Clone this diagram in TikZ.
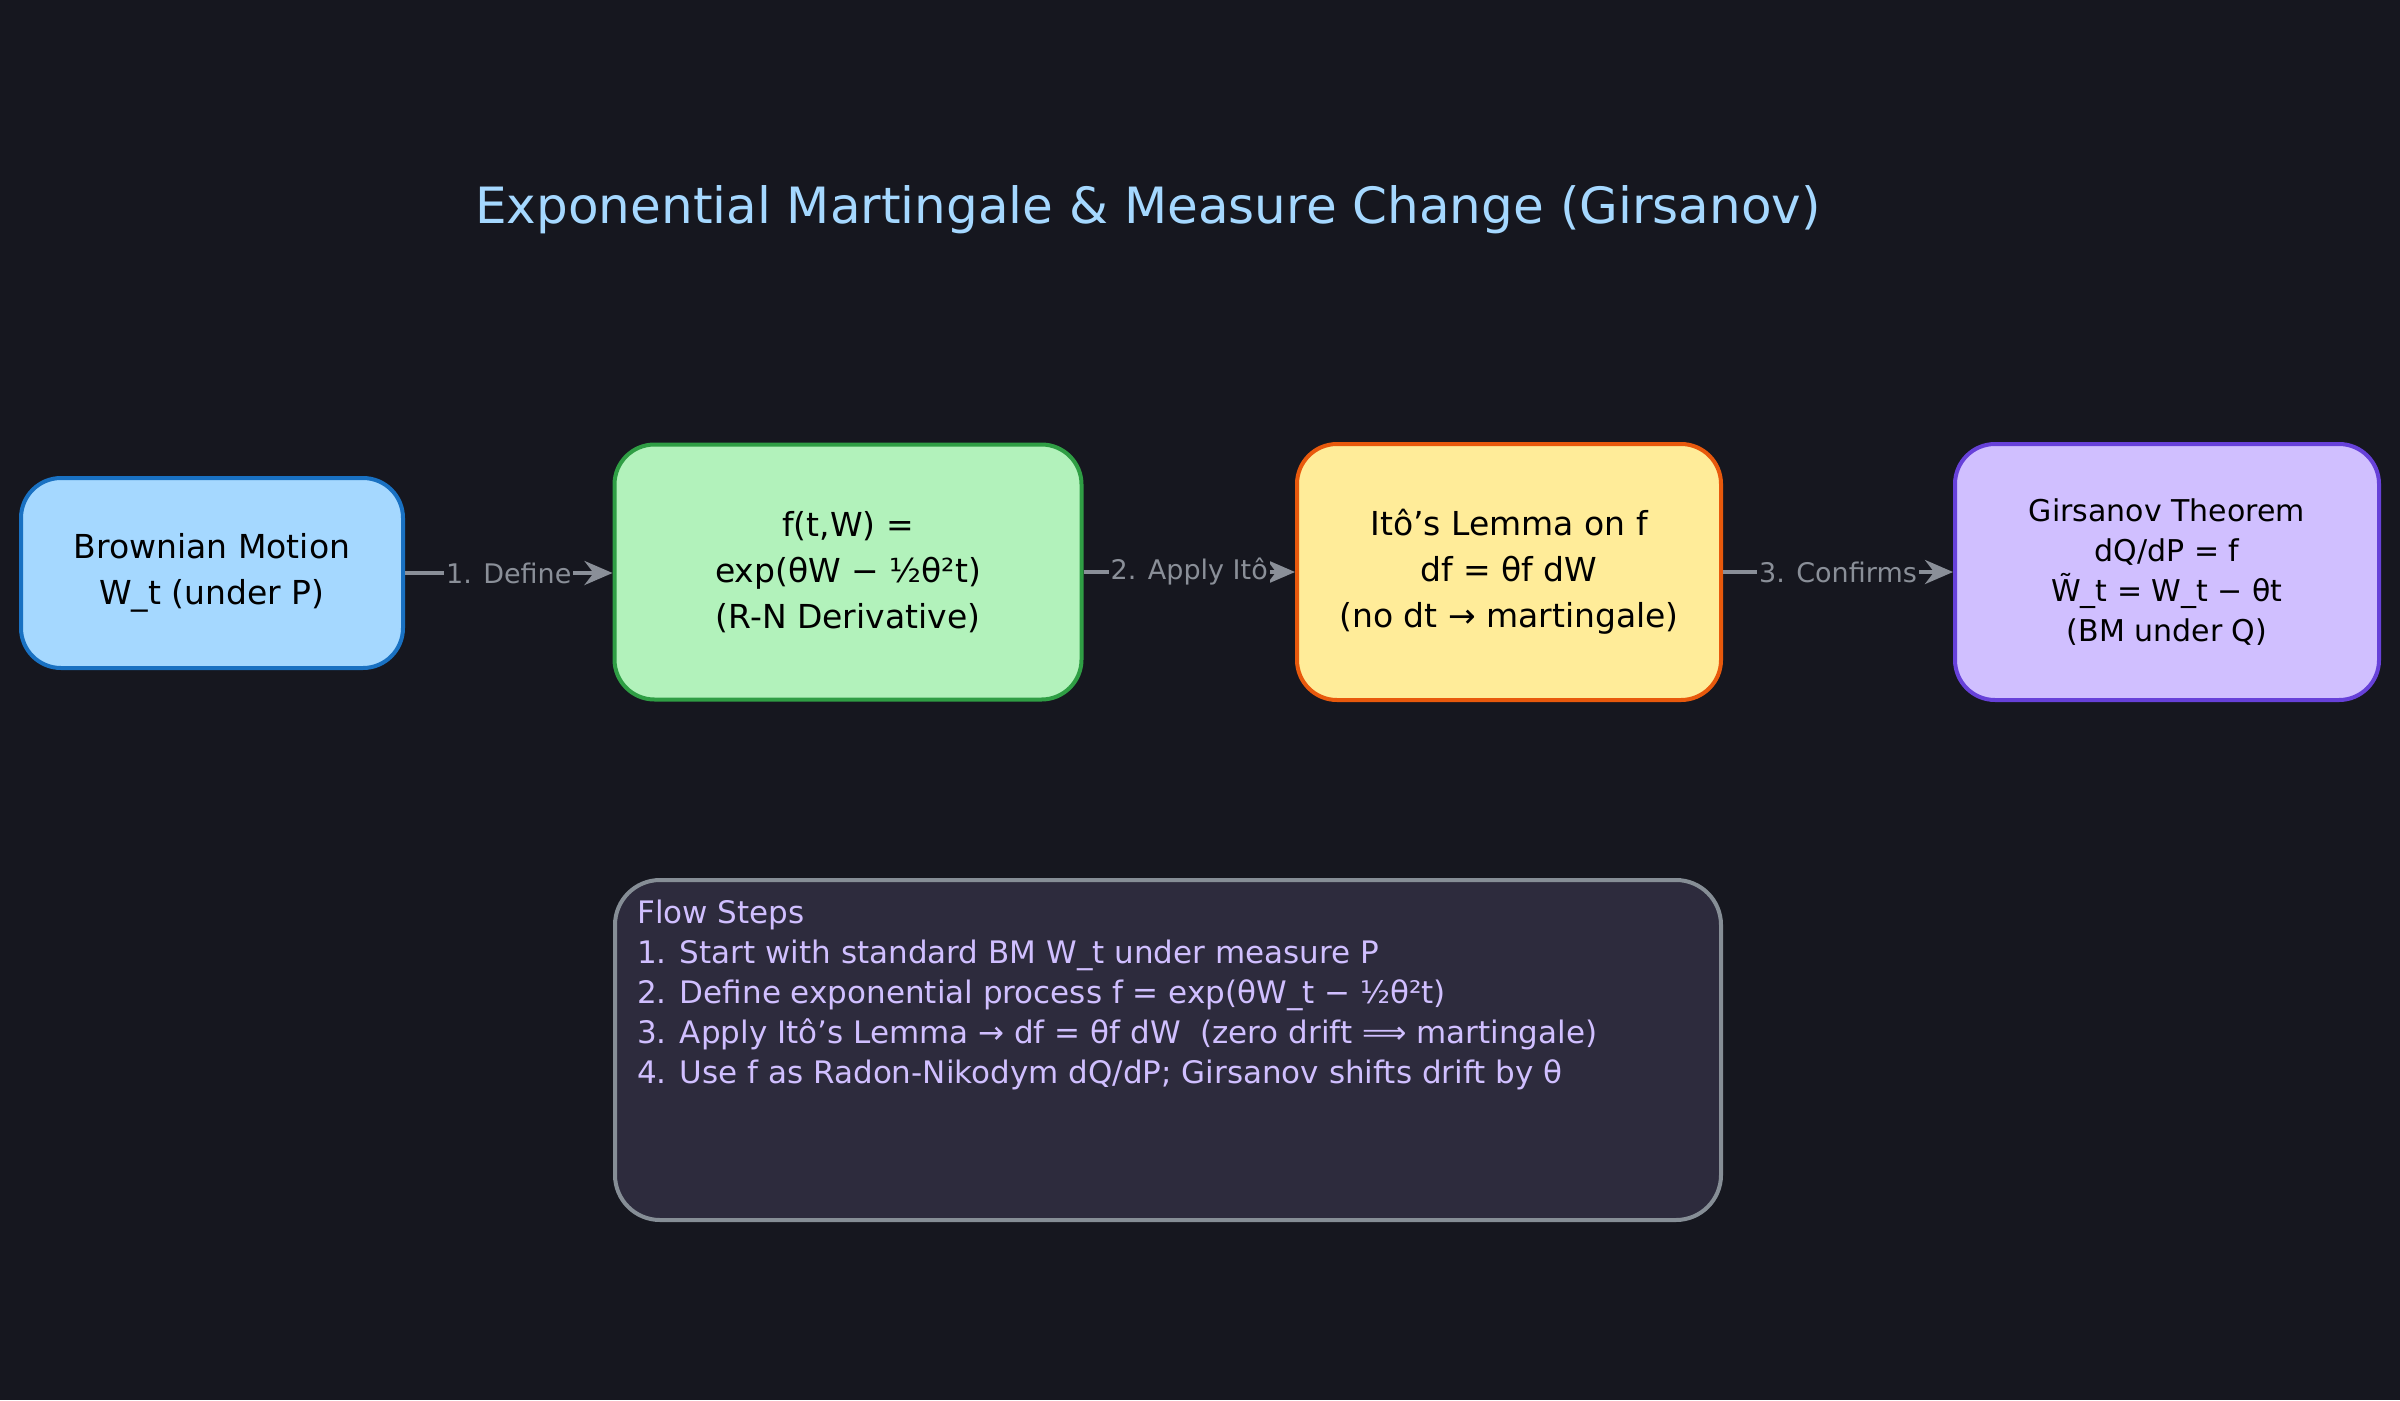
\documentclass[tikz,border=0pt]{standalone}
\usepackage{fontspec}
\setmainfont{DejaVu Sans}
\usetikzlibrary{arrows.meta}
\definecolor{bg}{HTML}{16171F}
\definecolor{ttl}{HTML}{A5D8FF}
\definecolor{lbl}{HTML}{8A8F98}
\definecolor{note}{HTML}{D0BFFF}
\definecolor{s1}{HTML}{1971C2}
\definecolor{f2}{HTML}{B2F2BB}
\definecolor{s2}{HTML}{2F9E44}
\definecolor{f3}{HTML}{FFEC99}
\definecolor{s3}{HTML}{E8590C}
\definecolor{s4}{HTML}{6741D9}
\definecolor{nf}{HTML}{2D2B3D}
\definecolor{ns}{HTML}{868E96}
\begin{document}
\begin{tikzpicture}[x=1pt,y=-1pt,
  box/.style={draw,line width=4pt,rounded corners=40pt,align=center,text=black,
    font=\fontsize{33}{46}\selectfont,inner sep=0pt},
  arr/.style={-{Stealth[length=28pt,width=24pt]},line width=4pt,draw=lbl},
  lab/.style={text=lbl,font=\fontsize{27}{30}\selectfont,fill=bg,inner sep=2pt}]
\fill[bg] (0,0) rectangle (2400,1400);
\useasboundingbox (0,0) rectangle (2400,1400);
\node[text=ttl,font=\fontsize{50}{54}\selectfont] (title) at (1148,210) {Exponential Martingale \& Measure Change (Girsanov)};
\node[box,fill=ttl,draw=s1,minimum width=382pt,minimum height=190pt] (b1) at (212,573) {Brownian Motion\\W\_t (under P)};
\node[box,fill=f2,draw=s2,minimum width=467pt,minimum height=255pt] (b2) at (848,572) {f(t,W) =\\exp(θW − ½θ²t)\\(R-N Derivative)};
\node[box,fill=f3,draw=s3,minimum width=424pt,minimum height=256pt] (b3) at (1509,572) {Itô's Lemma on f\\df = θf dW\\(no dt → martingale)};
\node[box,fill=note,draw=s4,minimum width=424pt,minimum height=256pt,font=\fontsize{30}{40}\selectfont] (b4) at (2167,572) {Girsanov Theorem\\dQ/dP = f\\W̃\_t = W\_t − θt\\(BM under Q)};
\node[draw=ns,fill=nf,line width=4pt,rounded corners=45pt,minimum width=1106pt,minimum height=340pt] (n) at (1168,1050) {};
\node[anchor=north west,align=left,text=note,font=\fontsize{31}{40}\selectfont,inner sep=0pt] (nt) at (637,900) {Flow Steps\\1. Start with standard BM W\_t under measure P\\2. Define exponential process f = exp(θW\_t − ½θ²t)\\3. Apply Itô's Lemma → df = θf dW\ \ (zero drift ⟹ martingale)\\4. Use f as Radon-Nikodym dQ/dP; Girsanov shifts drift by θ};
\draw[arr] (b1.east) -- node[lab]{1. Define} (b2.west |- b1.east);
\draw[arr] (b2.east) -- node[lab]{2. Apply Itô} (b3.west);
\draw[arr] (b3.east) -- node[lab]{3. Confirms} (b4.west);
\end{tikzpicture}
\end{document}
